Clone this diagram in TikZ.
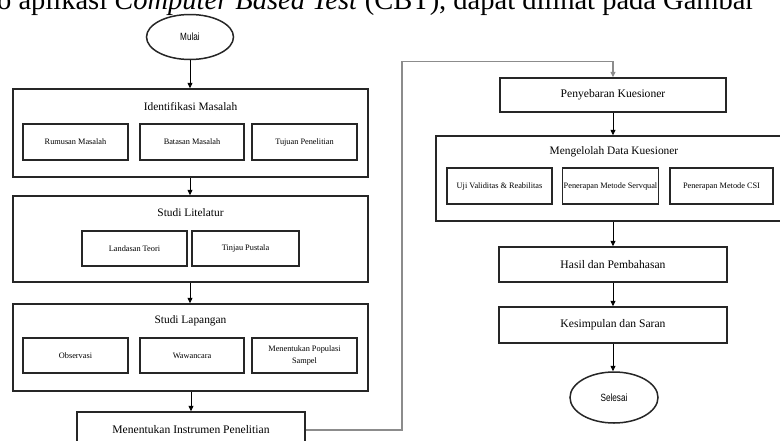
\documentclass[tikz,border=0pt]{standalone}
\usepackage{fontspec}
\setmainfont{Liberation Serif}
\newfontfamily\narrowsans{Liberation Sans}
\usetikzlibrary{arrows.meta,shapes.geometric}
\tikzset{
  outerbox/.style={draw=black!85, line width=1.5pt, fill=white, rectangle, inner sep=0pt},
  innerbox/.style={draw=black!85, line width=1.8pt, fill=white, rectangle, inner sep=1pt, align=center,
                   font=\fontsize{8.3}{10.5}\selectfont},
  mainbox/.style={draw=black!85, line width=1.5pt, fill=white, rectangle, inner sep=0pt,
                  font=\fontsize{11.6}{13}\selectfont},
  titletext/.style={inner sep=0pt, font=\fontsize{11.4}{13}\selectfont},
  term/.style={draw=black!85, line width=1.5pt, ellipse, inner sep=0pt,
               font=\narrowsans\fontsize{10.5}{12}\selectfont},
  conn/.style={draw=black, line width=0.8pt, -{Triangle[length=5.5pt,width=5pt]}},
  longconn/.style={draw=black!45, line width=1.2pt, -{Triangle[length=5.5pt,width=5pt]}},
}
\begin{document}
\begin{tikzpicture}[x=1pt,y=-1pt]
\useasboundingbox (0,0) rectangle (780,440);
\clip (0,0) rectangle (780,440);
\fill[white] (0,0) rectangle (780,440);

% cut-off page text at top
\node[anchor=base west, inner sep=0pt] (toptext) at (-3,9)
  {\fontsize{28.5}{30}\selectfont o aplikasi \textit{Computer Based Test} (CBT), dapat dilihat pada Gambar};

% start
\node[term, minimum width=87, minimum height=45] (mulai) at (190,37) {\scalebox{0.78}[1]{Mulai}};

% Identifikasi Masalah
\node[outerbox, minimum width=355, minimum height=88] (idm) at (190.5,133) {};
\node[titletext] (idmt) at (190.5,107) {Identifikasi Masalah};
\node[innerbox, minimum width=105, minimum height=36] (rm) at (75.5,142) {Rumusan Masalah};
\node[innerbox, minimum width=104, minimum height=36] (bm) at (192,142) {Batasan Masalah};
\node[innerbox, minimum width=105, minimum height=36] (tp) at (304.5,142) {Tujuan Penelitian};

% Studi Litelatur
\node[outerbox, minimum width=355, minimum height=86] (sl) at (190.5,239) {};
\node[titletext] (slt) at (190.5,213) {Studi Litelatur};
\node[innerbox, minimum width=105, minimum height=35] (lt) at (134.5,248.5) {Landasan Teori};
\node[innerbox, minimum width=107, minimum height=35] (tps) at (245.5,248.5) {Tinjau Pustala};

% Studi Lapangan
\node[outerbox, minimum width=355, minimum height=87] (slp) at (190.5,347.5) {};
\node[titletext] (slpt) at (190.5,321) {Studi Lapangan};
\node[innerbox, minimum width=105, minimum height=35] (obs) at (75.5,355.5) {Observasi};
\node[innerbox, minimum width=104, minimum height=35] (waw) at (192,355.5) {Wawancara};
\node[innerbox, minimum width=105, minimum height=35] (pop) at (304.5,355.5) {Menentukan Populasi\\[1pt]Sampel};

% Menentukan Instrumen
\node[mainbox, minimum width=228, minimum height=36] (ins) at (191,430) {Menentukan Instrumen Penelitian};

% right column
\node[mainbox, minimum width=226, minimum height=34] (peny) at (613,95) {Penyebaran Kuesioner};
\node[outerbox, minimum width=356, minimum height=85] (mdk) at (614,178.5) {};
\node[titletext] (mdkt) at (614,152) {Mengelolah Data Kuesioner};
\node[innerbox, minimum width=105, minimum height=36] (uji) at (499.5,186) {Uji Validitas \& Reabilitas};
\node[innerbox, minimum width=96, minimum height=36] (srv) at (610.5,186) {Penerapan Metode Servqual};
\node[innerbox, minimum width=103, minimum height=36] (csi) at (721.5,186) {Penerapan Metode CSI};
\node[mainbox, minimum width=228, minimum height=35] (hasil) at (613,264.5) {Hasil dan Pembahasan};
\node[mainbox, minimum width=228, minimum height=36] (kes) at (613,325) {Kesimpulan dan Saran};
\node[term, minimum width=88, minimum height=51] (selesai) at (614,397.5) {\scalebox{0.78}[1]{Selesai}};

% connectors
\draw[conn] (mulai.south) -- (idm.north -| mulai.south);
\draw[conn] (idm.south -| mulai.south) -- (sl.north -| mulai.south);
\draw[conn] (sl.south -| mulai.south) -- (slp.north -| mulai.south);
\draw[conn] (slp.south -| ins.north) -- (ins.north);

\coordinate (c1) at (402,430);
\coordinate (c2) at (402,61.5);
\draw[longconn] (ins.east) -- (c1) -- (c2) -| (peny.north);

\draw[conn] (peny.south) -- (mdk.north -| peny.south);
\draw[conn] (mdk.south -| peny.south) -- (hasil.north);
\draw[conn] (hasil.south) -- (kes.north);
\draw[conn] (kes.south) -- (selesai.north -| kes.south);
\end{tikzpicture}
\end{document}
